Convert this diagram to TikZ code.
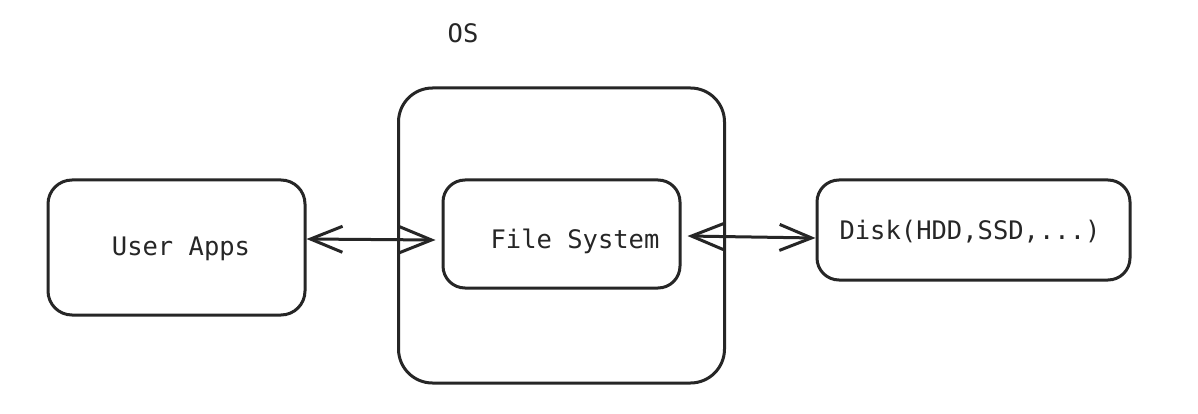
\documentclass[tikz,border=0pt]{standalone}
\usepackage{fontspec}
\setmonofont{DejaVu Sans Mono}
\usetikzlibrary{arrows.meta}
\begin{document}
\begin{tikzpicture}[x=1pt,y=-1pt,
  box/.style={draw=black!85, line width=3pt, inner sep=0pt},
  lbl/.style={font=\ttfamily\fontsize{25.5}{30}\selectfont, text=black!85, anchor=base, inner sep=0pt},
  arr/.style={line width=3pt, draw=black!85, {Straight Barb[length=32pt,width=26pt]}-{Straight Barb[length=32pt,width=26pt]}}]
\fill[white] (0,0) rectangle (1198,414);
\useasboundingbox (0,0) rectangle (1198,414);
\node[box, rounded corners=24pt, minimum width=257pt, minimum height=135pt] (ua) at (176.5,247.5) {};
\node[box, rounded corners=34pt, minimum width=326pt, minimum height=295pt] (os) at (561.5,235.5) {};
\node[box, rounded corners=22pt, minimum width=237pt, minimum height=108pt] (fs) at (561.5,234) {};
\node[box, rounded corners=22pt, minimum width=313pt, minimum height=100pt] (dk) at (973.5,230) {};
\node[lbl] (oslbl) at (463,43) {OS};
\node[lbl] (ualbl) at (181,255) {User Apps};
\node[lbl] (fslbl) at (575,248) {File System};
\node[lbl] (dklbl) at (970,239) {Disk(HDD,SSD,...)};
\draw[arr] (ua.east |- 0,239) -- ([xshift=-6pt]fs.west |- 0,240);
\draw[arr] ([xshift=6pt]fs.east |- 0,236) -- (dk.west |- 0,238);
\end{tikzpicture}
\end{document}
